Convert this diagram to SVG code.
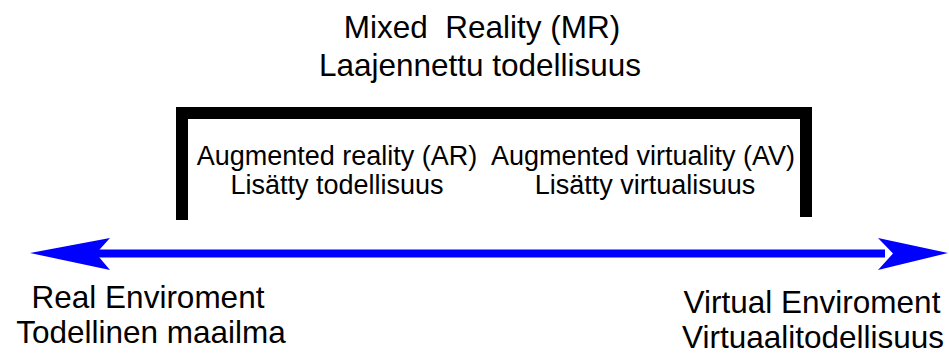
<svg xmlns="http://www.w3.org/2000/svg" width="949" height="354" viewBox="0 0 949 354">
<style>
text{font-family:"Liberation Sans",Arial,sans-serif;fill:#000;text-anchor:middle;white-space:pre}
.t{font-size:31.5px}
.m{font-size:27px}
.b{font-size:31.5px}
</style>
<rect width="949" height="354" fill="#fff"/>
<g id="mr">
<text class="t" x="482" y="38" xml:space="preserve">Mixed  Reality (MR)</text>
<text class="t" x="480" y="76">Laajennettu todellisuus</text>
<path id="bracket" d="M182,220 V113 H806 V217" fill="none" stroke="#000" stroke-width="12"/>
</g>
<g id="ar">
<text class="m" x="337" y="165">Augmented reality (AR)</text>
<text class="m" x="337" y="194">Lisätty todellisuus</text>
</g>
<g id="av">
<text class="m" x="643" y="165">Augmented virtuality (AV)</text>
<text class="m" x="645" y="194">Lisätty virtualisuus</text>
</g>
<g id="connectors">
<path d="M95,253.5 H885" stroke="#0000ff" stroke-width="8"/>
<path d="M30,253 L110,238 L96,253.5 L110,270 Z" fill="#0000ff"/>
<path d="M948,253 L878,238 L893,253.5 L878,270 Z" fill="#0000ff"/>
</g>
<g id="real">
<text class="b" x="148" y="308">Real Enviroment</text>
<text class="b" x="151" y="343">Todellinen maailma</text>
</g>
<g id="virtual">
<text class="b" x="812" y="313">Virtual Enviroment</text>
<text class="b" x="813" y="348">Virtuaalitodellisuus</text>
</g>
</svg>
